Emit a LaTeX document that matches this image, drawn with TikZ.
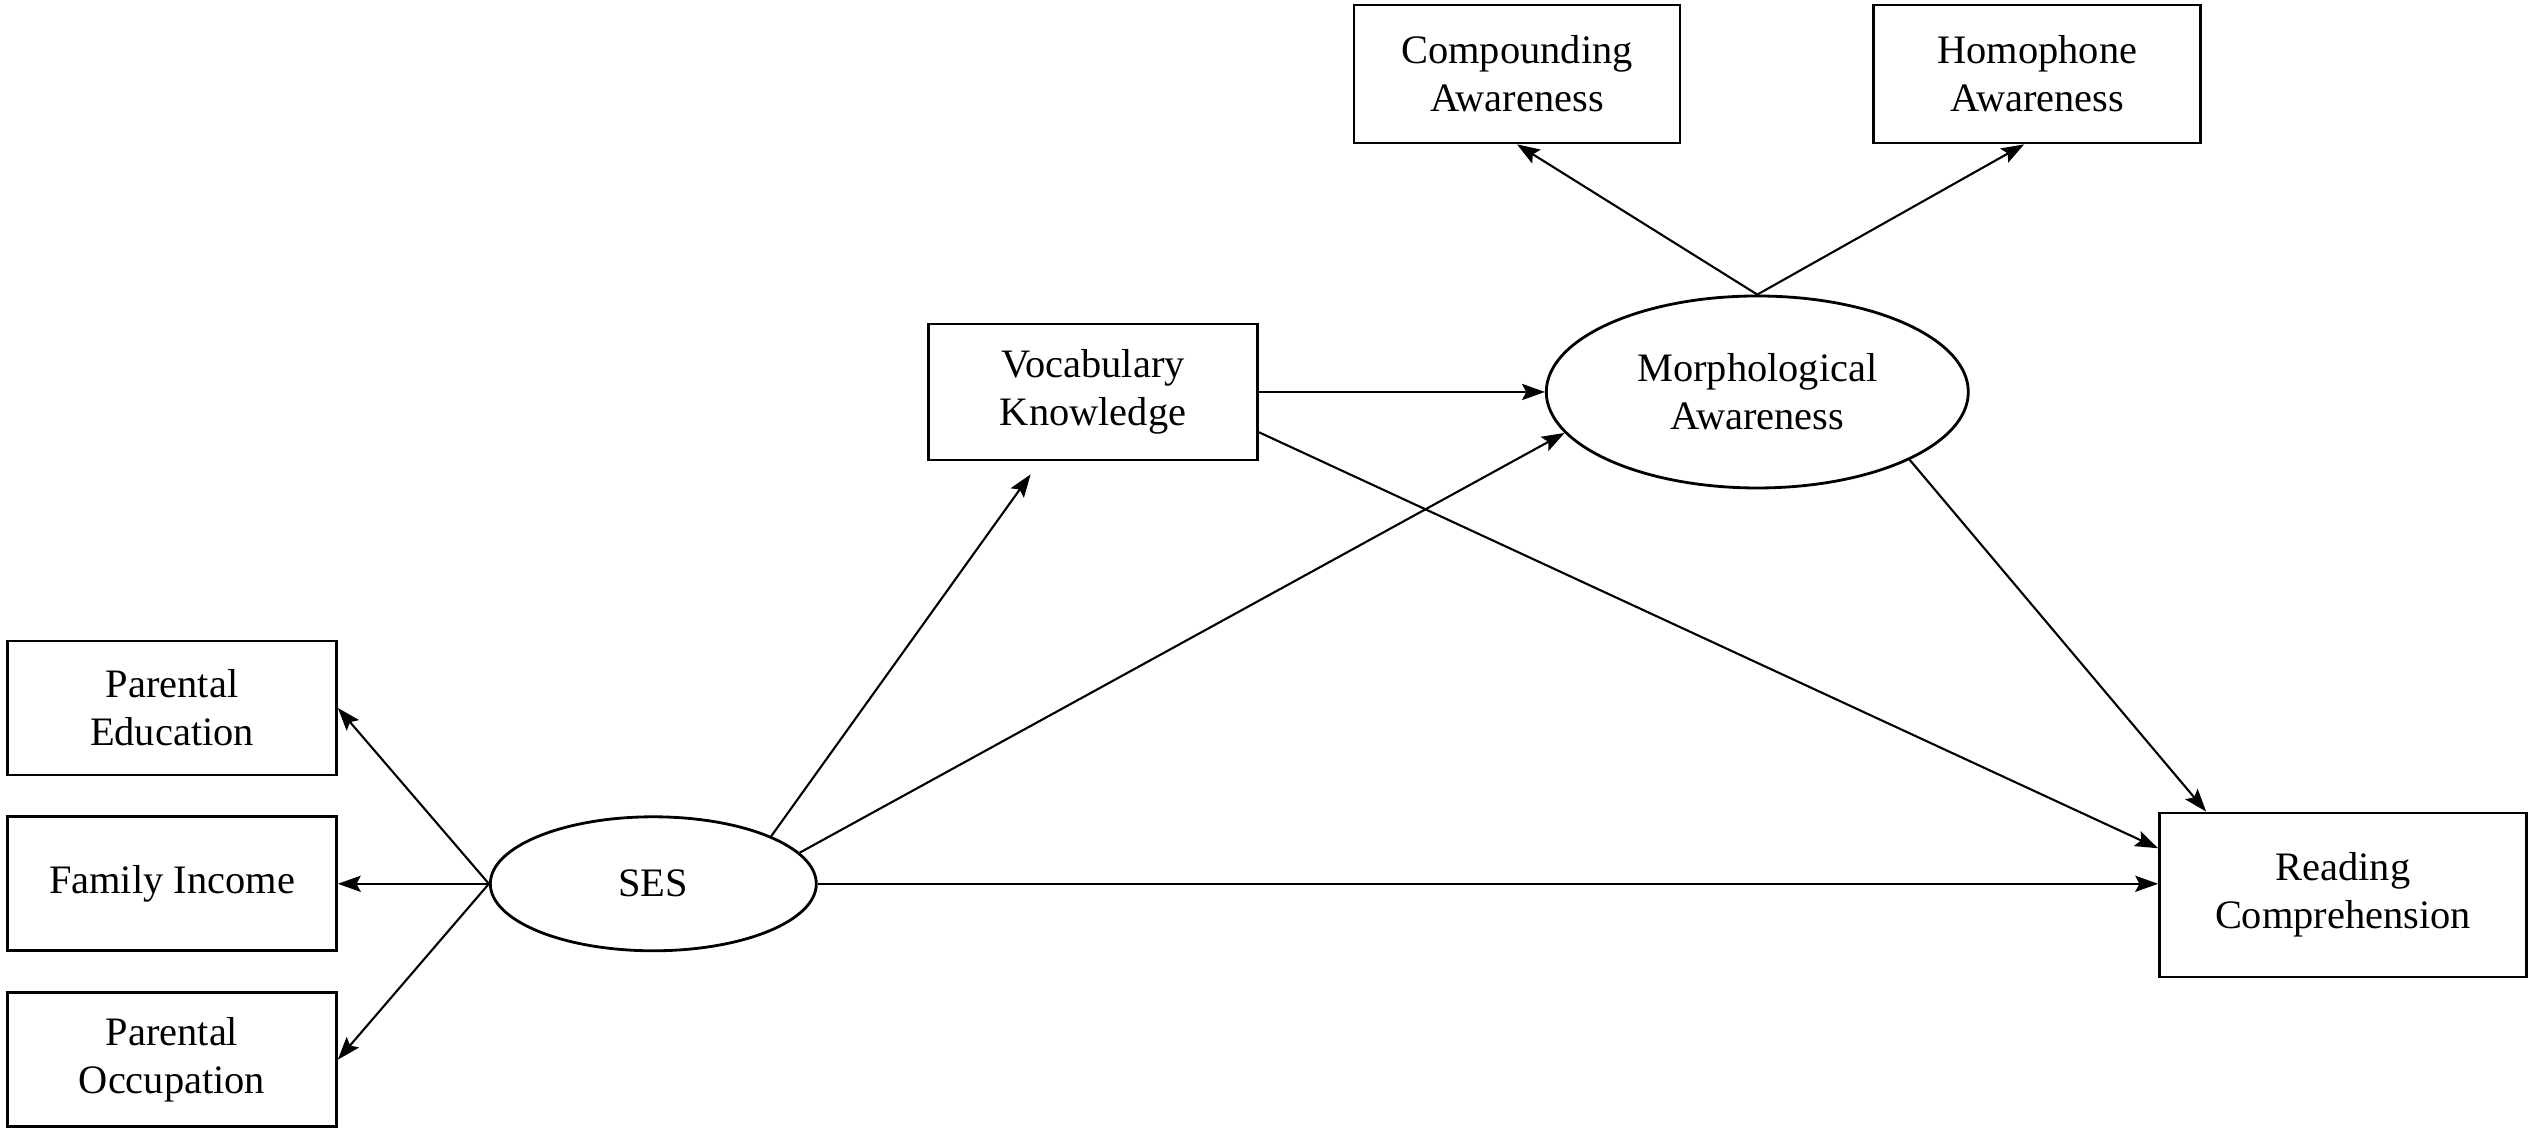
\documentclass[tikz,border=0pt]{standalone}
\usepackage{fontspec}
\setmainfont{Liberation Serif}
\usetikzlibrary{arrows.meta,positioning,calc,shapes.geometric}

\begin{document}
\begin{tikzpicture}[>={Stealth[length=6.5pt,width=4.6pt,inset=1.2pt]},
  box/.style={draw,line width=0.8pt,align=center,minimum width=3.29cm,minimum height=1.34cm,inner sep=2pt,font=\fontsize{11.5}{13.7}\selectfont},
  latent/.style={draw,ellipse,line width=0.8pt,align=center,inner sep=0pt,font=\fontsize{11.5}{13.7}\selectfont},
  link/.style={->,line width=0.6pt}]
\useasboundingbox (0,0) rectangle (25.33,11.32);
\node[box] (pe) at (1.72,4.24) {Parental\\Education};
\node[box,below=0.39cm of pe] (fi) {Family Income};
\node[box,below=0.39cm of fi] (po) {Parental\\Occupation};
\node[latent,minimum width=3.26cm,minimum height=1.34cm,right=1.51cm of fi] (ses) {SES};
\node[box,minimum height=1.36cm] (vk) at (10.93,7.40) {Vocabulary\\Knowledge};
\node[latent,minimum width=4.22cm,minimum height=1.92cm,right=2.86cm of vk] (ma) {Morphological\\Awareness};
\node[box,minimum width=3.26cm,minimum height=1.38cm] (ca) at (15.17,10.58) {Compounding\\Awareness};
\node[box,minimum width=3.27cm,minimum height=1.38cm,right=1.91cm of ca] (ha) {Homophone\\Awareness};
\node[box,minimum width=3.67cm,minimum height=1.64cm] (rc) at (23.43,2.37) {Reading\\Comprehension};
\draw[link] (ses.west) -- (pe.east);
\draw[link] (ses.west) -- (fi.east);
\draw[link] (ses.west) -- (po.east);
\draw[link,shorten >=0.16cm] (ses.22) -- ($(vk.south west)!0.34!(vk.south east)$);
\draw[link] (ses.12) -- (ma.192);
\draw[link] (vk.east) -- (ma.west);
\draw[link] ($(vk.north east)!0.79!(vk.south east)$) -- ($(rc.north west)!0.22!(rc.south west)$);
\draw[link] (ses.east) -- (ses.east -| rc.west);
\draw[link] (ma.336) -- ($(rc.north west)!0.13!(rc.north east)$);
\draw[link] (ma.north) -- (ca.south);
\draw[link] (ma.north) -- ($(ha.south west)!0.46!(ha.south east)$);
\end{tikzpicture}
\end{document}
